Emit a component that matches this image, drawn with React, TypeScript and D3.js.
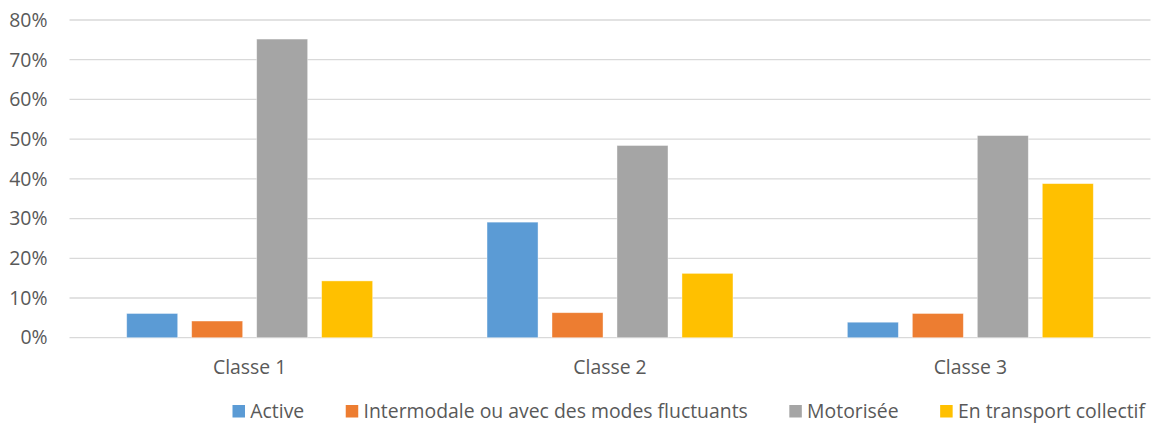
import React, { useEffect, useRef } from "react";
import * as d3 from "d3";

const categories = ["Classe 1", "Classe 2", "Classe 3"];
const seriesNames = ["Active", "Intermodale ou avec des modes fluctuants", "Motorisée", "En transport collectif"];
const seriesColors = ["#5B9BD5", "#ED7D31", "#A5A5A5", "#FFC000"];
const active = [0.061, 0.291, 0.039];
const intermodale = [0.042, 0.063, 0.061];
const motorisee = [0.752, 0.484, 0.509];
const collectif = [0.143, 0.162, 0.388];
const yTicks = [0, 0.1, 0.2, 0.3, 0.4, 0.5, 0.6, 0.7, 0.8];

const W = 1152;
const H = 423;

export default function App() {
  const ref = useRef<SVGSVGElement>(null);
  useEffect(() => {
    const svg = d3.select(ref.current);
    svg.selectAll("*").remove();
    const font = "'Open Sans', Lato, sans-serif";
    const fs = 19.4;
    const textColor = "#595959";
    const left = 69.5, right = 1150.5, top = 20, bottom = 337.7;
    const x = d3.scaleBand<string>().domain(categories).range([left, right]).paddingInner(0).paddingOuter(0);
    const y = d3.scaleLinear().domain([0, 0.8]).range([bottom, top]);
    const series = [active, intermodale, motorisee, collectif];
    const inner = d3.scaleBand<number>().domain([0, 1, 2, 3]).range([0, x.bandwidth()]).paddingOuter(0.88).paddingInner(0.215);

    const g = svg.append("g");
    g.selectAll("line.grid").data(yTicks).enter().append("line")
      .attr("x1", left).attr("x2", right)
      .attr("y1", (d) => y(d)).attr("y2", (d) => y(d))
      .attr("stroke", "#D9D9D9").attr("stroke-width", 1.3);

    g.selectAll("text.ytick").data(yTicks).enter().append("text")
      .attr("x", 47.5).attr("y", (d) => y(d)).attr("dy", "0.35em")
      .attr("text-anchor", "end").attr("font-family", font).attr("font-size", fs)
      .attr("fill", textColor).text((d) => `${Math.round(d * 100)}%`);

    series.forEach((vals, si) => {
      g.selectAll(`rect.s${si}`).data(vals).enter().append("rect")
        .attr("x", (_d, i) => (x(categories[i]) as number) + (inner(si) as number))
        .attr("width", inner.bandwidth())
        .attr("y", (d) => y(d))
        .attr("height", (d) => y(0) - y(d))
        .attr("fill", seriesColors[si])
        .attr("stroke", "#ffffff").attr("stroke-opacity", 0.5).attr("stroke-width", 0.8);
    });

    g.selectAll("text.xcat").data(categories).enter().append("text")
      .attr("x", (d) => (x(d) as number) + x.bandwidth() / 2).attr("y", 373.5)
      .attr("text-anchor", "middle").attr("font-family", font).attr("font-size", fs)
      .attr("fill", textColor).text((d) => d);

    const lg = svg.append("g");
    let cx = 232.5;
    seriesNames.forEach((name, i) => {
      lg.append("rect").attr("x", cx).attr("y", 405).attr("width", 12.5).attr("height", 12.5).attr("fill", seriesColors[i]);
      const t = lg.append("text").attr("x", cx + 17.8).attr("y", 417.8)
        .attr("font-family", font).attr("font-size", fs).attr("fill", textColor).text(name);
      const w = (t.node() as SVGTextElement).getComputedTextLength();
      cx += 17.8 + w + 41.5;
    });
  }, []);
  return (
    <svg ref={ref} width={W} height={H} style={{ position: "absolute", left: 0, top: 0, background: "#fff" }} />
  );
}
